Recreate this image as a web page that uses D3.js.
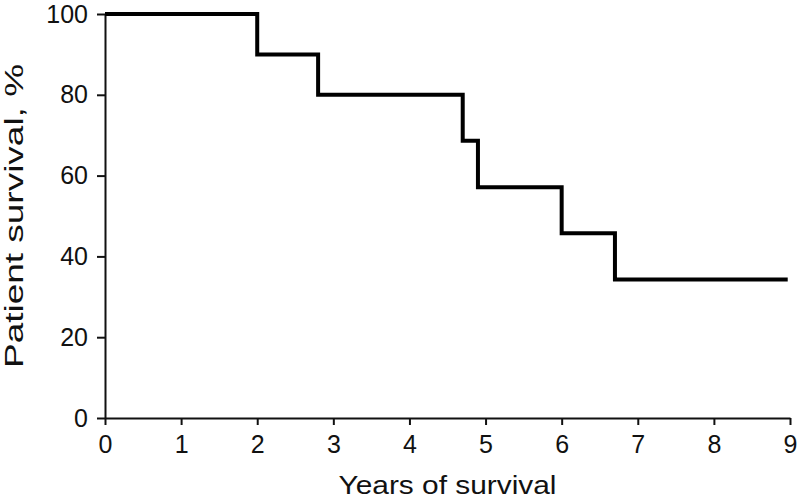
<!DOCTYPE html>
<html>
<head>
<meta charset="utf-8">
<script src="https://cdn.jsdelivr.net/npm/d3@7"></script>
<style>
  html, body { margin: 0; padding: 0; background: #fff; }
  svg { display: block; }
  text { font-family: "Liberation Sans", Arial, Helvetica, sans-serif; fill: #111; }
</style>
</head>
<body>
<svg id="chart" width="798" height="499"></svg>
<script>
// Data
const years = [0, 2, 2.8, 4.7, 4.9, 6.0, 6.7, 8.97];
const survival = [100, 90, 80, 68.6, 57.1, 45.7, 34.3, 34.3];
const xTicks = [0, 1, 2, 3, 4, 5, 6, 7, 8, 9];
const yTicks = [0, 20, 40, 60, 80, 100];
const xTitle = "Years of survival";
const yTitle = "Patient survival, %";

const svg = d3.select("#chart");
const x = d3.scaleLinear().domain([0, 9]).range([105, 790]);
const y = d3.scaleLinear().domain([0, 100]).range([418, 14]);

// X axis
const gx = svg.append("g").attr("transform", `translate(0,${y(0)})`)
  .call(d3.axisBottom(x).tickValues(xTicks).tickSize(7).tickSizeOuter(0).tickPadding(10));
gx.attr("font-size", 25).attr("font-family", '"Liberation Sans", Arial, sans-serif');
gx.select(".domain").attr("stroke", "#111").attr("stroke-width", 2);
gx.selectAll(".tick line").attr("stroke", "#111").attr("stroke-width", 2);
gx.selectAll(".tick text").attr("font-size", 25).attr("fill", "#111");

// Y axis
const gy = svg.append("g").attr("transform", `translate(${x(0)},0)`)
  .call(d3.axisLeft(y).tickValues(yTicks).tickSize(8).tickSizeOuter(0).tickPadding(9));
gy.attr("font-size", 25).attr("font-family", '"Liberation Sans", Arial, sans-serif');
gy.select(".domain").attr("stroke", "#111").attr("stroke-width", 2);
gy.selectAll(".tick line").attr("stroke", "#111").attr("stroke-width", 2);
gy.selectAll(".tick text").attr("font-size", 25).attr("fill", "#111");

// Survival curve
const pts = years.map((t, i) => [t, survival[i]]);
const line = d3.line().x(d => x(d[0])).y(d => y(d[1])).curve(d3.curveStepAfter);
svg.append("path").datum(pts)
  .attr("d", line)
  .attr("fill", "none")
  .attr("stroke", "#000")
  .attr("stroke-width", 4)
  .attr("stroke-linejoin", "miter")
  .attr("stroke-linecap", "butt");

// Axis titles
svg.append("text")
  .attr("x", (x(0) + x(9)) / 2)
  .attr("y", 494)
  .attr("text-anchor", "middle")
  .attr("font-size", 26)
  .attr("textLength", 218)
  .attr("lengthAdjust", "spacingAndGlyphs")
  .text(xTitle);

svg.append("text")
  .attr("transform", `translate(23,${(y(0) + y(100)) / 2}) rotate(-90)`)
  .attr("text-anchor", "middle")
  .attr("font-size", 26)
  .attr("textLength", 304)
  .attr("lengthAdjust", "spacingAndGlyphs")
  .text(yTitle);
</script>
</body>
</html>
